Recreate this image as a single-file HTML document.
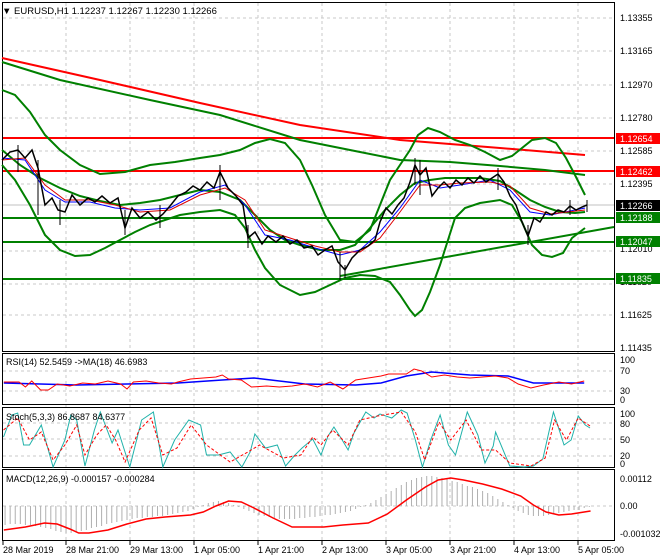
<!DOCTYPE html>
<html><head><style>
body{margin:0;background:#fff;}
svg{display:block;font-family:"Liberation Sans",sans-serif;font-size:9px;}
.s *{vector-effect:non-scaling-stroke;}
</style></head><body>
<svg width="660" height="560" viewBox="0 0 660 560" xmlns="http://www.w3.org/2000/svg">
<rect width="660" height="560" fill="#fff"/>
<g stroke="#c8c8c8" stroke-dasharray="3,3" stroke-width="1">
<line x1="66" y1="3" x2="66" y2="540"/><line x1="130" y1="3" x2="130" y2="540"/>
<line x1="194" y1="3" x2="194" y2="540"/><line x1="258" y1="3" x2="258" y2="540"/>
<line x1="322" y1="3" x2="322" y2="540"/><line x1="386" y1="3" x2="386" y2="540"/>
<line x1="450" y1="3" x2="450" y2="540"/><line x1="514" y1="3" x2="514" y2="540"/>
<line x1="578" y1="3" x2="578" y2="540"/>
<line x1="3" y1="18" x2="614" y2="18"/><line x1="3" y1="51" x2="614" y2="51"/>
<line x1="3" y1="85" x2="614" y2="85"/><line x1="3" y1="118" x2="614" y2="118"/>
<line x1="3" y1="151" x2="614" y2="151"/><line x1="3" y1="184" x2="614" y2="184"/>
<line x1="3" y1="218" x2="614" y2="218"/><line x1="3" y1="251" x2="614" y2="251"/>
<line x1="3" y1="284" x2="614" y2="284"/><line x1="3" y1="315" x2="614" y2="315"/>
<line x1="3" y1="371" x2="614" y2="371"/><line x1="3" y1="391" x2="614" y2="391"/>
<line x1="3" y1="423" x2="614" y2="423"/><line x1="3" y1="439" x2="614" y2="439"/>
<line x1="3" y1="456" x2="614" y2="456"/><line x1="3" y1="506" x2="614" y2="506"/>
</g>
<g fill="none" stroke="#000" stroke-width="1">
<rect x="2.5" y="2.5" width="612" height="349"/>
<rect x="2.5" y="353.5" width="612" height="51"/>
<rect x="2.5" y="407.5" width="612" height="60"/>
<rect x="2.5" y="469.5" width="612" height="71"/>
</g>
<line x1="3" y1="205" x2="614" y2="205" stroke="#c0c0c0"/>
<g stroke-width="2">
<line x1="3" y1="138" x2="614" y2="138" stroke="#f00"/>
<line x1="3" y1="171" x2="614" y2="171" stroke="#f00"/>
<line x1="3" y1="218" x2="614" y2="218" stroke="#008000"/>
<line x1="3" y1="242" x2="614" y2="242" stroke="#008000"/>
<line x1="3" y1="279" x2="614" y2="279" stroke="#008000"/>
<line x1="340" y1="276" x2="614" y2="227" stroke="#008000"/>
</g>
<polyline fill="none" stroke="#f00" stroke-width="2" points="2,58 100,80 200,103 300,125 400,140 500,148 585,155"/>
<g fill="none" stroke="#008000" stroke-width="2">
<polyline points="2,62 60,80 150,100 220,115 300,140 360,152 400,160 450,162 500,166 545,170 585,175"/>
<polyline points="2,90 15,95 30,112 45,135 60,150 80,165 100,174 125,172 150,165 175,162 200,158 220,155 240,150 255,143 270,139 285,143 300,160 312,185 325,215 340,240 355,242 370,230 380,205 390,180 400,165 410,150 418,135 428,128 440,132 455,140 470,145 485,152 500,160 512,156 522,148 532,140 545,138 556,143 566,158 575,175 585,195"/>
<polyline points="2,165 15,180 30,205 45,235 60,250 75,256 90,255 105,248 120,240 135,232 150,225 165,220 180,215 200,212 220,210 235,215 245,228 255,250 265,268 280,285 300,295 315,292 330,285 345,278 360,275 375,276 390,282 400,295 410,310 415,316 422,310 430,292 440,265 448,240 455,218 465,208 480,203 500,200 512,205 522,222 532,245 542,255 552,257 563,253 572,238 585,228"/>
<polyline points="2,150 20,165 40,178 60,188 80,196 100,201 120,205 140,203 160,200 180,195 200,190 220,192 240,200 255,215 270,230 285,240 300,245 320,250 340,250 355,245 370,228 385,210 400,195 415,183 430,180 445,178 460,178 480,178 500,181 515,190 530,200 545,207 560,212 575,213 585,212"/>
</g>
<polyline fill="none" stroke="#0000ff" stroke-width="1" points="2,158 25,160 45,190 65,202 90,202 115,208 140,210 170,208 200,192 225,185 245,205 265,235 290,240 315,248 340,255 360,250 380,232 400,208 420,180 440,188 460,185 490,180 510,190 530,212 550,215 585,208"/>
<polyline fill="none" stroke="#d00" stroke-width="1" points="2,160 25,158 45,185 65,200 90,200 115,205 140,212 170,210 200,195 225,188 245,200 265,230 290,238 315,246 340,252 360,252 380,238 400,212 420,185 440,185 460,183 490,182 510,186 530,208 550,214 585,210"/>
<g stroke="#000" stroke-width="1">
<polyline fill="none" stroke-width="1.5" points="2,160 10,152 18,150 25,158 32,150 38,168 45,205 52,198 58,210 65,212 72,195 80,205 88,198 95,202 102,196 110,203 118,198 125,228 132,208 140,218 148,212 156,220 163,214 170,206 178,196 186,192 193,186 200,190 207,182 214,188 220,172 228,188 236,196 243,205 248,238 255,232 262,244 268,236 276,242 283,236 290,244 297,240 304,248 312,246 318,255 325,250 332,246 338,262 345,270 352,258 360,250 368,246 375,240 380,222 386,208 392,214 398,205 404,198 410,182 415,165 420,175 426,168 432,196 438,188 444,182 450,188 456,180 462,185 468,178 474,183 480,176 486,182 492,178 498,174 504,182 510,196 516,205 522,222 528,236 534,218 540,222 546,212 552,215 558,210 564,212 570,206 576,210 582,207 587,205"/>
<path d="M18 145V172M38 160V215M60 200V225M125 210V235M160 205V228M220 165V200M248 225V248M340 252V280M345 265V278M415 158V185M420 160V195M498 168V190M528 225V245M570 200V215M587 200V212"/>
</g>
<text x="2" y="14" font-size="9.5" fill="#000">▼ EURUSD,H1  1.12237 1.12267 1.12230 1.12266</text>
<g font-size="9" fill="#000">
<text x="620" y="21">1.13355</text><text x="620" y="54">1.13165</text>
<text x="620" y="88">1.12970</text><text x="620" y="121">1.12780</text>
<text x="620" y="154">1.12585</text><text x="620" y="187">1.12395</text>
<text x="620" y="252">1.12010</text><text x="620" y="285">1.11820</text>
<text x="620" y="318">1.11625</text><text x="620" y="351">1.11435</text>
</g>
<g font-size="9">
<rect x="616" y="133" width="44" height="11" fill="#f00"/><text x="620" y="142" fill="#fff">1.12654</text>
<rect x="616" y="166" width="44" height="11" fill="#f00"/><text x="620" y="175" fill="#fff">1.12462</text>
<rect x="616" y="200" width="44" height="11" fill="#000"/><text x="620" y="209" fill="#fff">1.12266</text>
<rect x="616" y="212" width="44" height="11" fill="#008000"/><text x="620" y="221" fill="#fff">1.12188</text>
<rect x="616" y="236" width="44" height="11" fill="#008000"/><text x="620" y="245" fill="#fff">1.12047</text>
<rect x="616" y="273" width="44" height="11" fill="#008000"/><text x="620" y="282" fill="#fff">1.11835</text>
</g>
<g class="s" transform="scale(1.27,1)">
<polyline fill="none" stroke="#00f" stroke-width="1.5" points="3,383 60,385 100,384 140,383 175,380 200,378 240,384 280,385 300,383 320,376 340,372 370,375 400,376 420,383 450,383 460,383"/>
<polyline fill="none" stroke="#f00" stroke-width="1" points="3,382 15,382 20,387 25,381 32,390 38,390 45,384 55,386 65,383 75,384 85,381 95,384 100,389 105,382 115,381 125,383 135,384 140,382 150,379 160,378 170,377 175,375 180,379 190,380 198,387 210,386 220,387 230,386 240,384 250,387 260,382 270,389 280,380 290,378 300,376 306,374 320,374 326,369 332,371 340,377 350,375 360,377 370,378 380,377 390,376 400,378 408,384 418,388 428,385 440,382 450,384 460,381"/>
<g stroke="#b0b0b0" stroke-width="1">
<path d="M4 506V525M8 506V524M12 506V524M16 506V524M20 506V525M24 506V525M28 506V526M32 506V527M36 506V528M40 506V529M44 506V531M48 506V532M52 506V533M56 506V533M60 506V532M64 506V531M68 506V530M72 506V528M76 506V527M80 506V526M84 506V524M88 506V523M92 506V522M96 506V521M100 506V520M104 506V519M108 506V518M112 506V518M116 506V517M120 506V517M124 506V516M128 506V516M132 506V515M136 506V514M140 506V513M144 506V512M148 506V511M152 506V509M156 506V507M160 506V505M164 506V503M168 506V502M172 506V501M176 506V502M180 506V503M184 506V505M188 506V507M192 506V509M196 506V511M200 506V513M204 506V515M208 506V516M212 506V517M216 506V518M220 506V519M224 506V519M228 506V519M232 506V519M236 506V518M240 506V518M244 506V517M248 506V517M252 506V516M256 506V515M260 506V515M264 506V514M268 506V513M272 506V512M276 506V511M280 506V509M284 506V507M288 506V505M292 506V503M296 506V500M300 506V497M304 506V494M308 506V491M312 506V488M316 506V485M320 506V482M324 506V480M328 506V478M332 506V477M336 506V476M340 506V476M344 506V477M348 506V478M352 506V479M356 506V481M360 506V482M364 506V484M368 506V486M372 506V487M376 506V489M380 506V491M384 506V493M388 506V496M392 506V499M396 506V502M400 506V505M404 506V508M408 506V511M412 506V513M416 506V515M420 506V516M424 506V516M428 506V516M432 506V515M436 506V514M440 506V513M444 506V512M448 506V511M452 506V510M456 506V510M460 506V508M464 506V507"/>
</g>
<polyline fill="none" stroke="#f00" stroke-width="1.5" points="3,530 20,527 35,523 45,524 55,529 62,533 70,533 85,530 100,524 115,519 130,517 150,515 160,512 170,506 180,501 190,502 200,508 215,518 230,527 240,527 255,527 270,525 290,523 305,514 320,500 335,487 345,480 355,478 365,480 380,484 395,489 410,496 420,505 430,512 440,515 450,514 460,512 465,511"/>
</g>
<g class="s" transform="scale(1.18,1)">
<polyline fill="none" stroke="#20b2aa" stroke-width="1" points="3,437 10,415 15,413 20,445 25,445 35,425 45,467 55,440 60,415 65,420 72,466 80,430 85,412 95,443 100,430 110,467 120,420 130,412 138,467 148,440 160,420 170,425 175,455 185,455 195,452 205,467 212,452 216,434 225,448 235,445 242,466 250,455 256,448 265,439 272,455 278,436 283,427 290,440 295,450 300,433 310,412 317,418 322,414 332,418 340,410 345,413 352,440 358,467 365,440 373,415 380,445 386,455 396,412 405,435 411,463 418,446 420,432 432,466 444,467 452,466 460,459 469,412 478,445 484,440 490,416 496,425 500,428"/>
<polyline fill="none" stroke="#f00" stroke-width="1" stroke-dasharray="3,2" points="3,430 15,418 25,440 35,432 45,460 55,445 65,425 72,455 82,435 90,425 98,440 106,462 118,430 128,418 138,455 150,448 162,425 175,445 195,462 210,452 220,445 240,458 255,455 265,437 272,445 282,430 295,445 305,420 320,416 340,412 352,432 360,460 372,422 382,440 395,420 408,450 420,450 432,463 450,466 462,458 470,420 480,440 490,418 500,426"/>
</g>
<g font-size="9" fill="#000">
<text x="6" y="365">RSI(14) 52.5459  -&gt;MA(18) 46.6983</text>
<text x="620" y="363">100</text><text x="620" y="374">70</text><text x="620" y="394">30</text><text x="620" y="403">0</text>
<text x="6" y="420">Stoch(5,3,3) 86.8687 84.6377</text>
<text x="620" y="417">100</text><text x="620" y="427">80</text><text x="620" y="443">50</text><text x="620" y="459">20</text><text x="620" y="467">0</text>
<text x="6" y="482">MACD(12,26,9) -0.000157 -0.000284</text>
<text x="620" y="482">0.00112</text><text x="620" y="509">0.00</text><text x="620" y="537">-0.001032</text>
</g>
<g stroke="#000"><path d="M3 541v4M66 541v4M130 541v4M194 541v4M258 541v4M322 541v4M386 541v4M450 541v4M514 541v4M578 541v4"/></g>
<g font-size="9" fill="#000">
<text x="3" y="553">28 Mar 2019</text><text x="66" y="553">28 Mar 21:00</text><text x="130" y="553">29 Mar 13:00</text>
<text x="194" y="553">1 Apr 05:00</text><text x="258" y="553">1 Apr 21:00</text><text x="322" y="553">2 Apr 13:00</text>
<text x="386" y="553">3 Apr 05:00</text><text x="450" y="553">3 Apr 21:00</text><text x="514" y="553">4 Apr 13:00</text>
<text x="578" y="553">5 Apr 05:00</text>
</g>
</svg>
</body></html>
